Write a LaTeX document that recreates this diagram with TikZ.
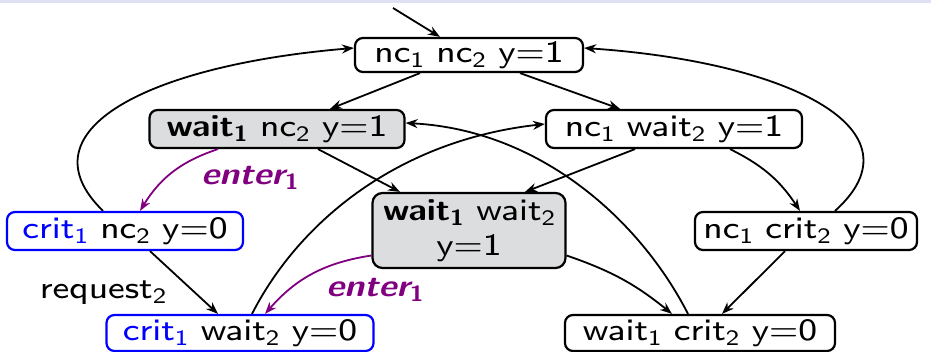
\documentclass[tikz,border=0pt]{standalone}
\usepackage{fontspec}
\setmainfont{lmsans8-regular.otf}[BoldFont=lmsans10-bold.otf, ItalicFont=lmsans8-oblique.otf, BoldItalicFont=lmsans10-boldoblique.otf, FakeStretch=1.14]
\usetikzlibrary{arrows.meta,calc}
\definecolor{lav}{RGB}{224,224,245}
\definecolor{boxgray}{RGB}{220,221,223}
\definecolor{purp}{RGB}{128,0,128}
\newcommand\sbx[1]{\raisebox{-2.5pt}{\fontsize{11}{11}\selectfont #1}}
\begin{document}
\begin{tikzpicture}[x=0.5pt,y=-0.5pt,
  st/.style={draw, rounded corners=4pt, line width=1.1pt, inner sep=0pt, minimum height=18pt, font=\fontsize{15.5}{17.5}\selectfont},
  gr/.style={st, fill=boxgray},
  bl/.style={st, draw=blue},
  ed/.style={-{Stealth[length=6pt,width=4.5pt]}, line width=0.9pt},
  pe/.style={ed, draw=purp},
  lbl/.style={font=\fontsize{15.5}{17.5}\selectfont\bfseries\itshape, text=purp, inner sep=0pt}]
\useasboundingbox (0,0) rectangle (931,352);
\fill[lav] (0,0) rectangle (931,3);
\node[st, minimum width=114pt, minimum height=17pt] (n0) at (469,55) {nc\sbx{1} nc\sbx{2} y=1};
\node[gr, minimum width=127.5pt, minimum height=19pt] (n1) at (277,129) {\textbf{wait\sbx{1}} nc\sbx{2} y=1};
\node[st, minimum width=128pt, minimum height=19pt] (n2) at (674,129) {nc\sbx{1} wait\sbx{2} y=1};
\node[bl, minimum width=118pt, minimum height=19pt] (n3) at (125,231) {\textcolor{blue}{crit\sbx{1}} nc\sbx{2} y=0};
\node[gr, rounded corners=5pt, minimum width=96.5pt, minimum height=37.5pt, align=center] (n4) at (469,230.5) {\textbf{wait\sbx{1}} wait\sbx{2}\\y=1};
\node[st, minimum width=111pt, minimum height=19pt] (n5) at (806,231) {nc\sbx{1} crit\sbx{2} y=0};
\node[bl, minimum width=133.5pt] (n6) at (240,333) {\textcolor{blue}{crit\sbx{1}} wait\sbx{2} y=0};
\node[st, minimum width=135pt] (n7) at (700,333) {wait\sbx{1} crit\sbx{2} y=0};
\coordinate (init) at (393,8);
% initial
\draw[ed] (init) -- ($(n0.north)+(-29,0)$);
% from n0
\draw[ed] ($(n0.south)+(-49,0)$) -- ($(n1.north)+(53,0)$);
\draw[ed] ($(n0.south)+(51,0)$) -- ($(n2.north)+(-54,0)$);
% loops back to n0
\draw[ed] ($(n3.north)+(-22,0)$) .. controls (20,130) and (150,65) .. ($(n0.west)+(0,-7)$);
\draw[ed] ($(n5.north)+(29,0)$) .. controls (925,130) and (790,62) .. ($(n0.east)+(0,-7)$);
% n1
\draw[pe] ($(n1.south)+(-59,0)$) to[bend right=20] ($(n3.north)+(15,0)$);
\node[lbl] (l1) at (250,178) {enter\sbx{\upshape 1}};
\draw[ed] ($(n1.south)+(41,0)$) -- ($(n4.north)+(-69,0)$);
% n2
\draw[ed] ($(n2.south)+(-39,0)$) -- ($(n4.north)+(56,0)$);
\draw[ed] ($(n2.south)+(56,0)$) to[bend left=15] ($(n5.north)+(-6,0)$);
% n3
\draw[ed] ($(n3.south)+(25,0)$) -- ($(n6.north)+(-22,0)$);
\node[font=\fontsize{15.5}{17.5}\selectfont, inner sep=0pt] (l2) at (103,293) {request\sbx{2}};
% n4
\draw[pe] ($(n4.west)+(0,25)$) to[bend right=20] ($(n6.north)+(25,0)$);
\node[lbl] (l3) at (375,290) {enter\sbx{\upshape 1}};
\draw[ed] ($(n4.east)+(0,25)$) to[bend left=10] ($(n7.north)+(-28,0)$);
% n5
\draw[ed] ($(n5.south)+(-21,0)$) -- ($(n7.north)+(22,0)$);
% n6 -> n2
\draw[ed] ($(n6.north)+(12,0)$) .. controls (300,220) and (400,140) .. ($(n2.west)+(0,-5)$);
% n7 -> n1
\draw[ed] ($(n7.north)+(-12,0)$) .. controls (640,220) and (540,130) .. ($(n1.east)+(0,-6)$);
\end{tikzpicture}
\end{document}
